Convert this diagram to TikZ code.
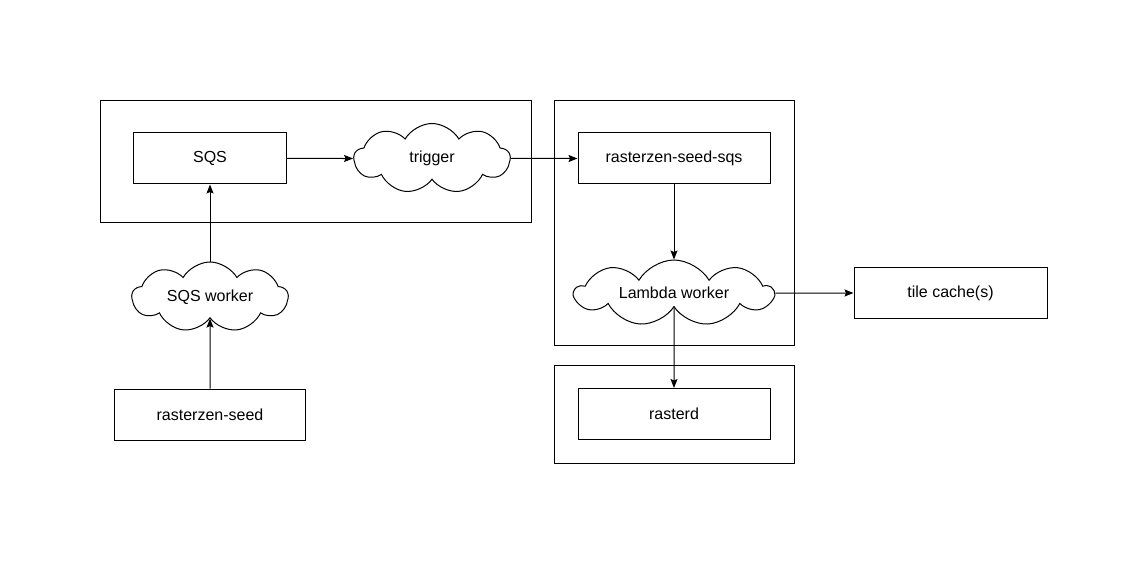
\documentclass[tikz,border=0pt]{standalone}
\usepackage{fontspec}
\setmainfont{Liberation Sans}
\usetikzlibrary{arrows.meta,shapes.symbols}

\begin{document}
\begin{tikzpicture}[x=1pt, y=-1pt, line width=1pt,
        frame/.style = {draw},
        proc/.style = {draw, minimum width=153pt, minimum height=51pt, inner sep=0pt},
        puff/.style = {draw, cloud, cloud puffs=9, cloud puff arc=120, cloud ignores aspect, inner sep=0pt},
        flow/.style = {-{Stealth[length=9pt,width=7pt,inset=1.5pt]}},
        font=\fontsize{16}{19}\selectfont]
        \useasboundingbox (0,0) rectangle (1148,564);
        % group frames
        \draw[frame] (100,101) rectangle (531,222);
        \draw[frame] (554,101) rectangle (794,345);
        \draw[frame] (554,365) rectangle (794,463);
        % boxes and clouds
        \node[proc] (sqs) at (210,158.5) {SQS};
        \node[puff, minimum width=156pt, minimum height=70pt] (trigger) at (432,158.5) {trigger};
        \node[proc, minimum width=192pt] (seedsqs) at (674,158.5) {rasterzen-seed-sqs};
        \node[puff, minimum width=198pt, minimum height=66pt] (lambda) at (674,293) {Lambda worker};
        \node[proc, minimum width=192pt] (rasterd) at (674,414) {rasterd};
        \node[proc, minimum width=193pt] (cache) at (950.5,293) {tile cache(s)};
        \node[puff, minimum width=156pt, minimum height=70pt] (sqsworker) at (210,297) {SQS worker};
        \node[proc, minimum width=191pt] (seed) at (210,414.5) {rasterzen-seed};
        % connectors
        \draw[flow] (sqs) -- (trigger);
        \draw[flow] (trigger) -- (seedsqs);
        \draw[flow] (seedsqs) -- (lambda);
        \draw[flow] (lambda) -- (cache);
        \draw[flow] (lambda.south) -- (rasterd);
        \draw[flow] (sqsworker) -- (sqs);
        \draw[flow] (seed) -- (sqsworker);
    \end{tikzpicture}
\end{document}
